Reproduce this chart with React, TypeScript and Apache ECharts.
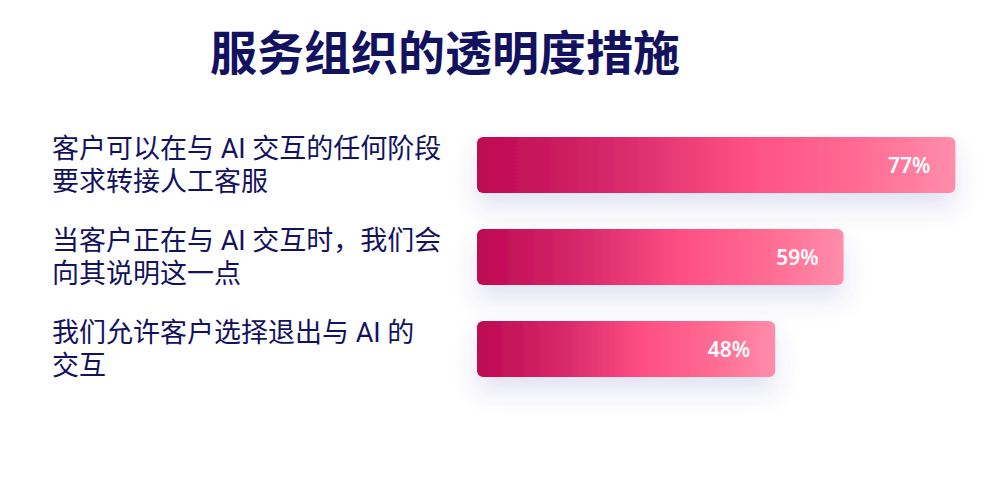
import * as echarts from 'echarts';
import { useEffect, useRef } from 'react';

const categories = [
    '客户可以在与 AI 交互的任何阶段\n要求转接人工客服',
    '当客户正在与 AI 交互时，我们会\n向其说明这一点',
    '我们允许客户选择退出与 AI 的\n交互',
];
const values = [77, 59, 48];
const titleText = '服务组织的透明度措施';

const navy = '#12125f';

const App = () => {
    const chartDiv = useRef<HTMLDivElement>(null);

    useEffect(() => {
        const chart = echarts.init(chartDiv.current, null, { renderer: 'svg' });

        const barColor = new echarts.graphic.LinearGradient(0, 0, 1, 0, [
            { offset: 0, color: '#bc0852' },
            { offset: 0.3, color: '#d92a6b' },
            { offset: 0.55, color: '#fd4e83' },
            { offset: 0.8, color: '#ff6c93' },
            { offset: 1, color: '#ff8dab' },
        ]);

        chart.setOption({
            animation: false,
            title: {
                text: titleText,
                left: 205,
                top: 21,
                textStyle: {
                    fontFamily: '"Noto Sans CJK SC", sans-serif',
                    fontSize: 47,
                    fontWeight: 'bold',
                    color: navy,
                },
            },
            grid: {
                left: 477,
                top: 119,
                width: 497,
                height: 276,
            },
            xAxis: {
                type: 'value',
                min: 0,
                max: 80,
                show: false,
            },
            yAxis: {
                type: 'category',
                inverse: true,
                data: categories,
                axisLine: { show: false },
                axisTick: { show: false },
                axisLabel: {
                    align: 'left',
                    margin: 425,
                    fontFamily: 'Roboto, "Noto Sans CJK SC", sans-serif',
                    fontSize: 27,
                    lineHeight: 33,
                    color: navy,
                },
            },
            series: [
                {
                    type: 'bar',
                    data: values,
                    barWidth: 56,
                    itemStyle: {
                        color: barColor,
                        borderRadius: 6,
                        shadowColor: 'rgba(70, 80, 170, 0.16)',
                        shadowBlur: 24,
                        shadowOffsetY: 14,
                    },
                    label: {
                        show: true,
                        position: 'insideRight',
                        distance: 25,
                        formatter: '{c}%',
                        color: '#ffffff',
                        fontFamily: '"Noto Sans", sans-serif',
                        fontSize: 21,
                        fontWeight: 600,
                    },
                },
            ],
        });

        return () => {
            chart.dispose();
        };
    }, []);

    return (
        <div
            ref={chartDiv}
            style={{ position: 'fixed', left: 0, top: 0, width: '1000px', height: '480px', background: '#ffffff' }}
        />
    );
};

export default App;
